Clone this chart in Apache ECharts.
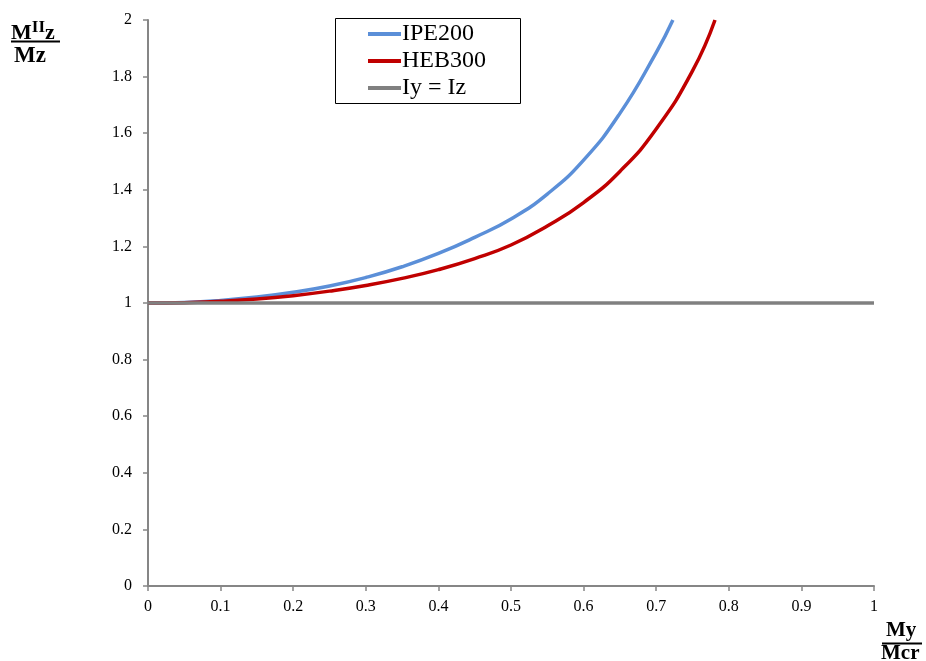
<!DOCTYPE html>
<html>
<head>
<meta charset="utf-8">
<script src="https://cdn.jsdelivr.net/npm/echarts@6/dist/echarts.min.js"></script>
<style>
  html, body { margin: 0; padding: 0; background: #fff; }
  #chart { width: 926px; height: 661px; }
</style>
</head>
<body>
<div id="chart"></div>
<script>
// Moment ratio My/Mcr along the horizontal axis
const ratioIPE = [0, 0.05, 0.1, 0.15, 0.2, 0.25, 0.3, 0.35, 0.4, 0.45, 0.5, 0.55, 0.6, 0.65, 0.7, 0.723];
const valuesIPE = [1.0, 1.002, 1.009, 1.021, 1.038, 1.06, 1.09, 1.128, 1.175, 1.232, 1.297, 1.385, 1.505, 1.67, 1.885, 2.0];

const ratioHEB = [0, 0.05, 0.1, 0.15, 0.2, 0.25, 0.3, 0.35, 0.4, 0.45, 0.5, 0.55, 0.6, 0.65, 0.7, 0.75, 0.781];
const valuesHEB = [1.0, 1.001, 1.006, 1.014, 1.026, 1.042, 1.062, 1.087, 1.118, 1.157, 1.205, 1.272, 1.355, 1.465, 1.615, 1.82, 2.0];

const ratioEqual = [0, 1];
const valuesEqual = [1, 1];

const seriesNames = ['IPE200', 'HEB300', 'Iy = Iz'];
const seriesColors = ['#5B8FD8', '#C00000', '#808080'];

const pairs = (xs, ys) => xs.map((x, i) => [x, ys[i]]);

const serif = '"Liberation Serif", "Times New Roman", serif';
const axisGray = '#868686';

const chart = echarts.init(document.getElementById('chart'));

chart.setOption({
  animation: false,
  backgroundColor: '#ffffff',
  grid: { left: 148, right: 52, top: 20, bottom: 75, containLabel: false },
  xAxis: {
    type: 'value', min: 0, max: 1, interval: 0.1,
    axisLine: { show: true, lineStyle: { color: axisGray, width: 2 } },
    axisTick: { show: true, length: 5, lineStyle: { color: axisGray, width: 1.5 } },
    axisLabel: { color: '#000', fontFamily: serif, fontSize: 16, margin: 13 },
    splitLine: { show: false }
  },
  yAxis: {
    type: 'value', min: 0, max: 2, interval: 0.2,
    axisLine: { show: true, lineStyle: { color: axisGray, width: 2 } },
    axisTick: { show: true, length: 5, lineStyle: { color: axisGray, width: 1.5 } },
    axisLabel: { color: '#000', fontFamily: serif, fontSize: 16, margin: 16 },
    splitLine: { show: false }
  },
  legend: {
    orient: 'vertical',
    left: 363, top: 17,
    itemWidth: 33, itemHeight: 4, itemGap: 3,
    icon: 'rect',
    textStyle: { fontFamily: serif, fontSize: 24, color: '#000', padding: [0, 0, 0, -4] },
    data: seriesNames
  },
  graphic: [
    { type: 'rect', shape: { x: 335.5, y: 18.5, width: 185, height: 85 },
      style: { fill: 'none', stroke: '#000', lineWidth: 1 }, z: 10 },
    // vertical axis title: MIIz over Mz
    { type: 'text', left: 11, top: 19,
      style: {
        text: '{m|M}{s|II}{m|z}',
        rich: {
          m: { fontFamily: serif, fontSize: 22, fontWeight: 'bold', fill: '#000', verticalAlign: 'bottom' },
          s: { fontFamily: serif, fontSize: 17, fontWeight: 'bold', fill: '#000', verticalAlign: 'top', padding: [0, 0, 8, 0] }
        }
      } },
    { type: 'line', shape: { x1: 11, y1: 41.5, x2: 60, y2: 41.5 }, style: { stroke: '#000', lineWidth: 2 } },
    { type: 'text', left: 14, top: 45,
      style: { text: 'Mz', fontFamily: serif, fontSize: 23, fontWeight: 'bold', fill: '#000' } },
    // horizontal axis title: My over Mcr
    { type: 'text', left: 886, top: 620,
      style: { text: 'My', fontFamily: serif, fontSize: 21, fontWeight: 'bold', fill: '#000' } },
    { type: 'line', shape: { x1: 882, y1: 643.5, x2: 922, y2: 643.5 }, style: { stroke: '#000', lineWidth: 2 } },
    { type: 'text', left: 881, top: 643,
      style: { text: 'Mcr', fontFamily: serif, fontSize: 21, fontWeight: 'bold', fill: '#000' } }
  ],
  series: [
    { name: seriesNames[0], type: 'line', smooth: 0.5, showSymbol: false, clip: true,
      data: pairs(ratioIPE, valuesIPE), color: seriesColors[0],
      lineStyle: { color: seriesColors[0], width: 3.5 }, z: 3 },
    { name: seriesNames[1], type: 'line', smooth: 0.5, showSymbol: false, clip: true,
      data: pairs(ratioHEB, valuesHEB), color: seriesColors[1],
      lineStyle: { color: seriesColors[1], width: 3.5 }, z: 3 },
    { name: seriesNames[2], type: 'line', showSymbol: false,
      data: pairs(ratioEqual, valuesEqual), color: seriesColors[2],
      lineStyle: { color: seriesColors[2], width: 3.5 }, z: 4 }
  ]
});
</script>
</body>
</html>
